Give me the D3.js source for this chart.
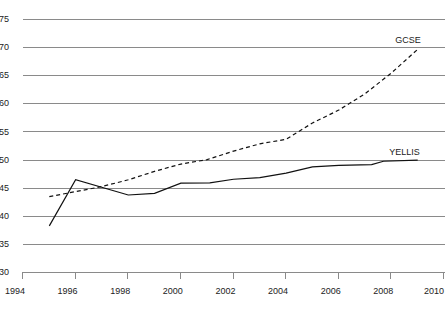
<!DOCTYPE html>
<meta charset="utf-8">
<script src="https://d3js.org/d3.v7.min.js"></script>
<style>
  body { margin: 0; background: #fff; }
  text { font-family: "Liberation Sans", Arial, sans-serif; font-size: 9px; fill: #222; }
</style>
<div id="chart"></div>
<script>

// data
var gcseYears   = [1995, 1996, 1997, 1998, 1999, 2000, 2001, 2002, 2003, 2004, 2005, 2006, 2007, 2008, 2009]
var gcseValues  = [43.4, 44.3, 45.2, 46.4, 47.9, 49.2, 50.0, 51.5, 52.8, 53.6, 56.5, 58.8, 61.7, 65.4, 69.6]
var yellisYears  = [1995, 1996, 1998, 1999, 2000, 2001.1, 2002, 2003, 2004, 2005, 2006, 2007.25, 2007.7, 2009]
var yellisValues = [38.2, 46.4, 43.7, 44.0, 45.8, 45.85, 46.5, 46.8, 47.6, 48.7, 48.95, 49.1, 49.7, 49.9]
var xTicks = [1994, 1996, 1998, 2000, 2002, 2004, 2006, 2008, 2010]
var yTicks = [30, 35, 40, 45, 50, 55, 60, 65, 70, 75]

var width = 445, height = 318

var svg = d3.select("#chart").append("svg")
    .attr("width", width)
    .attr("height", height)

var x = d3.scaleLinear().domain([1994, 2010]).range([23, 444])
var y = d3.scaleLinear().domain([30, 75]).range([272, 19])

// horizontal grid lines
svg.selectAll(".grid")
  .data(yTicks)
  .enter().append("line")
    .attr("x1", 23).attr("x2", width)
    .attr("y1", function(d){ return Math.round(y(d)) + 0.5 })
    .attr("y2", function(d){ return Math.round(y(d)) + 0.5 })
    .attr("stroke", "#8a8a8a")
    .attr("stroke-width", 1)

// y labels
svg.selectAll(".ylab")
  .data(yTicks)
  .enter().append("text")
    .attr("x", 9)
    .attr("y", function(d){ return y(d) })
    .attr("dy", "0.35em")
    .attr("text-anchor", "end")
    .text(function(d){ return d })

// x ticks
svg.selectAll(".xtick")
  .data(xTicks)
  .enter().append("line")
    .attr("x1", function(d){ return Math.round(x(d)) - 0.5 })
    .attr("x2", function(d){ return Math.round(x(d)) - 0.5 })
    .attr("y1", 272).attr("y2", 279)
    .attr("stroke", "#8a8a8a")

svg.selectAll(".xlab")
  .data(xTicks)
  .enter().append("text")
    .attr("x", function(d){ return Math.min(x(d) + 2, 444) })
    .attr("y", 294)
    .attr("text-anchor", "end")
    .text(function(d){ return d })

var line = d3.line()
    .x(function(d){ return x(d[0]) })
    .y(function(d){ return y(d[1]) })

var gcse = d3.zip(gcseYears, gcseValues)
var yellis = d3.zip(yellisYears, yellisValues)

svg.append("path")
    .attr("d", line(gcse))
    .attr("fill", "none")
    .attr("stroke", "#111")
    .attr("stroke-width", 1.2)
    .attr("stroke-dasharray", "4,3")

svg.append("path")
    .attr("d", line(yellis))
    .attr("fill", "none")
    .attr("stroke", "#111")
    .attr("stroke-width", 1.2)

// series labels
var gLast = gcse[gcse.length - 1], yLast = yellis[yellis.length - 1]
svg.append("text")
    .attr("x", x(gLast[0]) + 3)
    .attr("y", y(gLast[1]) - 6)
    .attr("text-anchor", "end")
    .text("GCSE")
svg.append("text")
    .attr("x", x(yLast[0]) + 2)
    .attr("y", y(yLast[1]) - 5)
    .attr("text-anchor", "end")
    .text("YELLIS")

</script>
